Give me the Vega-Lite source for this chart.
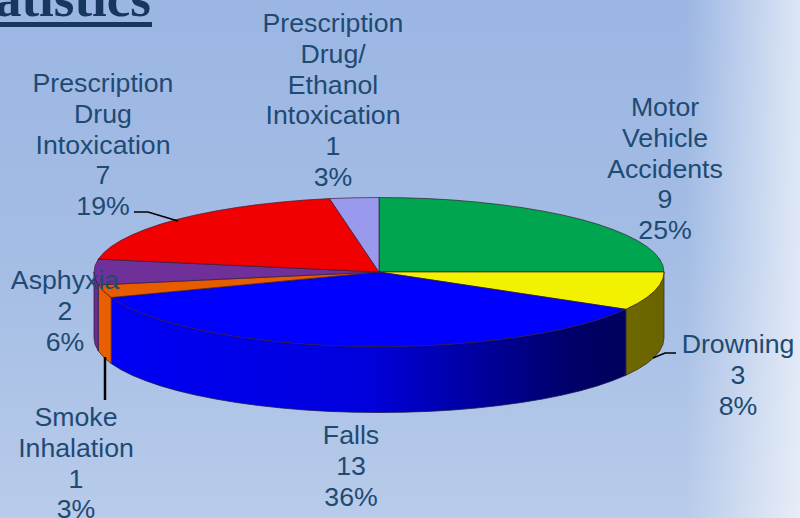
{
"$schema":"https://vega.github.io/schema/vega-lite/v6.json",
"width":800,"height":518,
"autosize":{"type":"fit","contains":"padding"},
"padding":0,
"background":"#9bb6e3",
"view":{"stroke":null},
"projection":{"type":"identity","scale":1,"translate":[0,0]},
"datasets":{
"backdrop":[
{"type":"Feature","properties":{"part":"base"},"geometry":{"type":"Polygon","coordinates":[[[0,0],[800,0],[800,518],[0,518],[0,0]]]}},
{"type":"Feature","properties":{"part":"band"},"geometry":{"type":"Polygon","coordinates":[[[685,0],[800,0],[800,518],[685,518],[685,0]]]}}
],
"sides":[
{"type":"Feature","properties":{"name":"Drowning","value":3},"geometry":{"type":"Polygon","coordinates":[[[664,272],[662.9,278.5],[659.7,284.9],[654.3,291.3],[646.8,297.5],[637.3,303.5],[625.8,309.3],[625.8,375.3],[637.3,369.5],[646.8,363.5],[654.3,357.3],[659.7,350.9],[662.9,344.5],[664,338],[664,272]]]}},
{"type":"Feature","properties":{"name":"Falls","value":13},"geometry":{"type":"Polygon","coordinates":[[[625.8,309.3],[612.4,314.7],[597.3,319.9],[580.5,324.7],[562.2,329.1],[542.5,333],[521.5,336.5],[499.4,339.5],[476.5,342],[452.8,344],[428.5,345.4],[403.8,346.2],[379,346.5],[354.2,346.2],[329.5,345.4],[305.2,344],[281.5,342],[258.6,339.5],[236.5,336.5],[215.5,333],[195.8,329.1],[177.5,324.7],[160.7,319.9],[145.6,314.7],[132.2,309.3],[120.7,303.5],[111.2,297.5],[111.2,363.5],[120.7,369.5],[132.2,375.3],[145.6,380.7],[160.7,385.9],[177.5,390.7],[195.8,395.1],[215.5,399],[236.5,402.5],[258.6,405.5],[281.5,408],[305.2,410],[329.5,411.4],[354.2,412.2],[379,412.5],[403.8,412.2],[428.5,411.4],[452.8,410],[476.5,408],[499.4,405.5],[521.5,402.5],[542.5,399],[562.2,395.1],[580.5,390.7],[597.3,385.9],[612.4,380.7],[625.8,375.3],[625.8,309.3]]]}},
{"type":"Feature","properties":{"name":"Smoke Inhalation","value":1},"geometry":{"type":"Polygon","coordinates":[[[111.2,297.5],[103.7,291.3],[98.3,284.9],[98.3,350.9],[103.7,357.3],[111.2,363.5],[111.2,297.5]]]}},
{"type":"Feature","properties":{"name":"Asphyxia","value":2},"geometry":{"type":"Polygon","coordinates":[[[98.3,284.9],[95.1,278.5],[94,272],[94,338],[95.1,344.5],[98.3,350.9],[98.3,284.9]]]}}
],
"slices":[
{"type":"Feature","properties":{"name":"Motor Vehicle Accidents","value":9},"geometry":{"type":"Polygon","coordinates":[[[379,272],[379,197.5],[403.8,197.8],[428.5,198.6],[452.8,200],[476.5,202],[499.4,204.5],[521.5,207.5],[542.5,211],[562.2,214.9],[580.5,219.3],[597.3,224.1],[612.4,229.3],[625.8,234.8],[637.3,240.5],[646.8,246.5],[654.3,252.7],[659.7,259.1],[662.9,265.5],[664,272],[379,272]]]}},
{"type":"Feature","properties":{"name":"Drowning","value":3},"geometry":{"type":"Polygon","coordinates":[[[379,272],[664,272],[662.9,278.5],[659.7,284.9],[654.3,291.3],[646.8,297.5],[637.3,303.5],[625.8,309.3],[379,272]]]}},
{"type":"Feature","properties":{"name":"Falls","value":13},"geometry":{"type":"Polygon","coordinates":[[[379,272],[625.8,309.3],[612.4,314.7],[597.3,319.9],[580.5,324.7],[562.2,329.1],[542.5,333],[521.5,336.5],[499.4,339.5],[476.5,342],[452.8,344],[428.5,345.4],[403.8,346.2],[379,346.5],[354.2,346.2],[329.5,345.4],[305.2,344],[281.5,342],[258.6,339.5],[236.5,336.5],[215.5,333],[195.8,329.1],[177.5,324.7],[160.7,319.9],[145.6,314.7],[132.2,309.3],[120.7,303.5],[111.2,297.5],[379,272]]]}},
{"type":"Feature","properties":{"name":"Smoke Inhalation","value":1},"geometry":{"type":"Polygon","coordinates":[[[379,272],[111.2,297.5],[103.7,291.3],[98.3,284.9],[379,272]]]}},
{"type":"Feature","properties":{"name":"Asphyxia","value":2},"geometry":{"type":"Polygon","coordinates":[[[379,272],[98.3,284.9],[95.1,278.5],[94,272],[95.1,265.5],[98.3,259.1],[379,272]]]}},
{"type":"Feature","properties":{"name":"Prescription Drug Intoxication","value":7},"geometry":{"type":"Polygon","coordinates":[[[379,272],[98.3,259.1],[103.7,252.7],[111.2,246.5],[120.7,240.5],[132.2,234.8],[145.6,229.3],[160.7,224.1],[177.5,219.3],[195.8,214.9],[215.5,211],[236.5,207.5],[258.6,204.5],[281.5,202],[305.2,200],[329.5,198.6],[379,272]]]}},
{"type":"Feature","properties":{"name":"Prescription Drug/Ethanol Intoxication","value":1},"geometry":{"type":"Polygon","coordinates":[[[379,272],[329.5,198.6],[354.2,197.8],[379,197.5],[379,272]]]}}
],
"leaders":[
{"type":"Feature","properties":{"name":"Prescription Drug Intoxication","kind":"thin"},"geometry":{"type":"LineString","coordinates":[[134,212],[148,212],[178,221]]}},
{"type":"Feature","properties":{"name":"Drowning","kind":"thin"},"geometry":{"type":"LineString","coordinates":[[676,353],[665,353],[653,358]]}},
{"type":"Feature","properties":{"name":"Smoke Inhalation","kind":"thick"},"geometry":{"type":"LineString","coordinates":[[105,357],[105,400]]}},
{"type":"Feature","properties":{"name":"Title underline","kind":"title"},"geometry":{"type":"LineString","coordinates":[[0,24.5],[152,24.5]]}}
],
"labels":[
{"label":"Prescription\nDrug/\nEthanol\nIntoxication\n1\n3%","lon":333,"lat":24},
{"label":"Prescription\nDrug\nIntoxication\n7\n19%","lon":103,"lat":84},
{"label":"Motor\nVehicle\nAccidents\n9\n25%","lon":665,"lat":108},
{"label":"Asphyxia\n2\n6%","lon":65,"lat":281},
{"label":"Drowning\n3\n8%","lon":738,"lat":345},
{"label":"Smoke\nInhalation\n1\n3%","lon":76,"lat":418},
{"label":"Falls\n13\n36%","lon":351,"lat":436}
],
"heading":[{"label":"Statistics","lon":151,"lat":16}]
},
"layer":[
{"data":{"name":"backdrop"},"transform":[{"filter":"datum.properties.part==='base'"}],
"mark":{"type":"geoshape","stroke":null,"fill":{"gradient":"linear","x1":0,"y1":0,"x2":0,"y2":1,"stops":[{"offset":0,"color":"#9bb6e3"},{"offset":0.5,"color":"#a4bde5"},{"offset":1,"color":"#b8cbea"}]}},"encoding":{}},
{"data":{"name":"backdrop"},"transform":[{"filter":"datum.properties.part==='band'"}],
"mark":{"type":"geoshape","stroke":null,"fill":{"gradient":"linear","x1":0,"y1":0,"x2":1,"y2":0,"stops":[{"offset":0,"color":"rgba(255,255,255,0)"},{"offset":1,"color":"rgba(255,255,255,0.66)"}]}},"encoding":{}},
{"data":{"name":"sides"},"transform":[{"filter":"datum.properties.name==='Drowning'"}],
"mark":{"type":"geoshape","stroke":"#3a3020","strokeWidth":0.8,"fill":{"gradient":"linear","x1":0,"y1":0,"x2":1,"y2":0,"stops":[{"offset":0,"color":"#6e6800"},{"offset":1,"color":"#6a6400"}]}},"encoding":{}},
{"data":{"name":"sides"},"transform":[{"filter":"datum.properties.name==='Falls'"}],
"mark":{"type":"geoshape","stroke":"#1a1a50","strokeWidth":0.8,"fill":{"gradient":"linear","x1":0,"y1":0,"x2":1,"y2":0,"stops":[{"offset":0,"color":"#0000f5"},{"offset":0.5,"color":"#0000dc"},{"offset":0.9,"color":"#000068"},{"offset":1,"color":"#00005c"}]}},"encoding":{}},
{"data":{"name":"sides"},"transform":[{"filter":"datum.properties.name==='Smoke Inhalation'"}],
"mark":{"type":"geoshape","stroke":"#4a2a30","strokeWidth":0.8,"fill":"#e85e00"},"encoding":{}},
{"data":{"name":"sides"},"transform":[{"filter":"datum.properties.name==='Asphyxia'"}],
"mark":{"type":"geoshape","stroke":"#3a2040","strokeWidth":0.8,"fill":"#6a2a90"},"encoding":{}},
{"data":{"name":"slices"},
"mark":{"type":"geoshape","stroke":"#3a1a30","strokeWidth":0.8,"strokeOpacity":0.85,"fillOpacity":1},
"encoding":{"fill":{"field":"properties.name","type":"nominal","legend":null,"scale":{"domain":["Motor Vehicle Accidents","Drowning","Falls","Smoke Inhalation","Asphyxia","Prescription Drug Intoxication","Prescription Drug/Ethanol Intoxication"],"range":["#00a550","#f2f200","#0000ff","#e85c00","#70309a","#f00000","#9999ee"]}}}},
{"data":{"name":"leaders"},"transform":[{"filter":"datum.properties.kind==='thin'"}],
"mark":{"type":"geoshape","filled":false,"stroke":"#000000","strokeWidth":1.5},"encoding":{}},
{"data":{"name":"leaders"},"transform":[{"filter":"datum.properties.kind==='thick'"}],
"mark":{"type":"geoshape","filled":false,"stroke":"#000000","strokeWidth":2.5},"encoding":{}},
{"data":{"name":"leaders"},"transform":[{"filter":"datum.properties.kind==='title'"}],
"mark":{"type":"geoshape","filled":false,"stroke":"#17375e","strokeWidth":5},"encoding":{}},
{"data":{"name":"labels"},
"mark":{"type":"text","font":"Liberation Sans","fontSize":26.7,"lineHeight":30.8,"lineBreak":"\n","align":"center","baseline":"middle","color":"#1f4a72"},
"encoding":{"longitude":{"field":"lon","type":"quantitative"},"latitude":{"field":"lat","type":"quantitative"},"text":{"field":"label"}}},
{"data":{"name":"heading"},
"mark":{"type":"text","font":"Liberation Serif","fontSize":53,"fontWeight":"bold","align":"right","baseline":"alphabetic","color":"#17375e"},
"encoding":{"longitude":{"field":"lon","type":"quantitative"},"latitude":{"field":"lat","type":"quantitative"},"text":{"field":"label"}}}
]
}
